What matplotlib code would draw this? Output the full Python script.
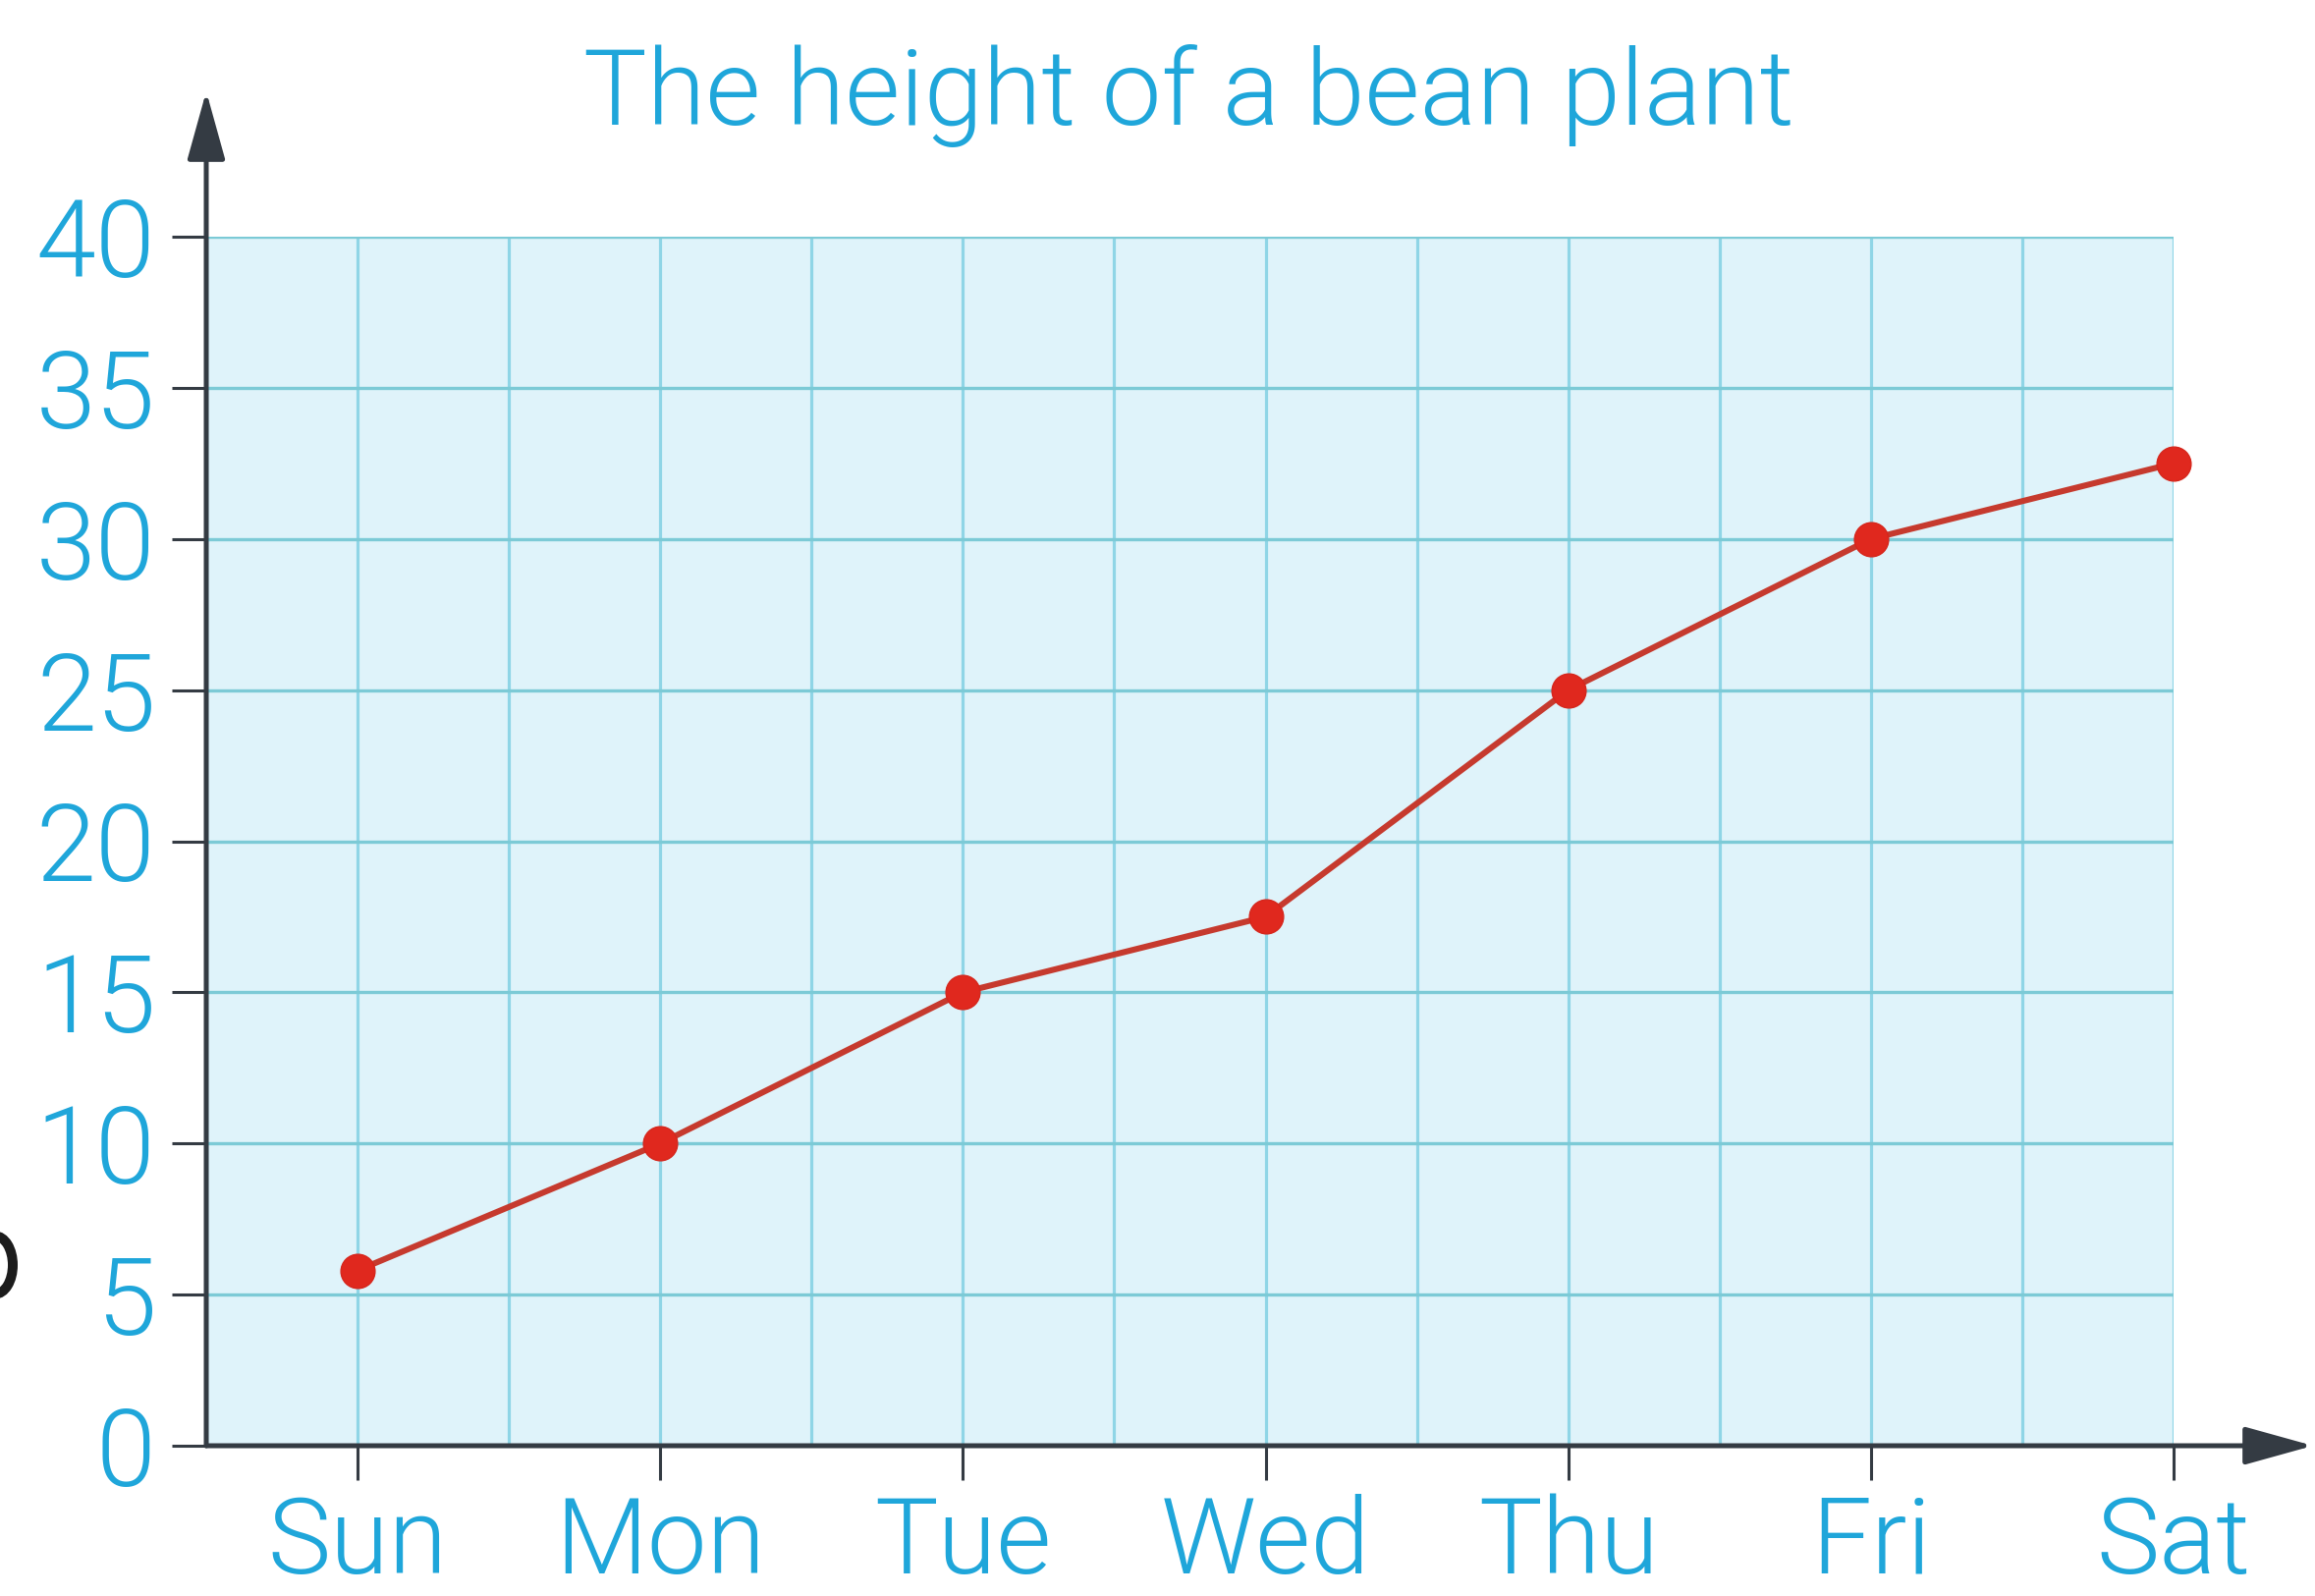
import matplotlib
matplotlib.use("Agg")
import matplotlib.pyplot as plt
from matplotlib.patches import Arc

# Data: daily height of the bean plant
days = ["Sun", "Mon", "Tue", "Wed", "Thu", "Fri", "Sat"]
heights = [5.8, 10, 15, 17.5, 25, 30, 32.5]
y_ticks = [0, 5, 10, 15, 20, 25, 30, 35, 40]
title = "The height of a bean plant"

W, H, DPI = 2357, 1625, 100
BLUE = "#1fa6da"
AXIS = "#343b43"
FILL = "#dff3fa"
HGRID = "#7ccad6"
VGRID = "#8fd5e6"
WEIGHT = 300

plt.rcParams["font.family"] = ["Roboto", "DejaVu Sans"]

fig = plt.figure(figsize=(W / DPI, H / DPI), dpi=DPI)
fig.patch.set_facecolor("white")

left, right, bottom, top = 210, 2213, 1472, 241
ax = fig.add_axes([left / W, (H - bottom) / H, (right - left) / W, (bottom - top) / H])
ax.set_facecolor(FILL)

x = list(range(len(days)))
ax.set_xlim(-0.5, len(days) - 1)
ax.set_ylim(0, 40)

# grid: half-day verticals, 5-unit horizontals
for xv in [i * 0.5 - 0.5 for i in range(2 * len(days))]:
    ax.axvline(xv, color=VGRID, lw=2.3, zorder=1)
for yv in y_ticks:
    ax.axhline(yv, color=HGRID, lw=2.4, zorder=1)

for s in ax.spines.values():
    s.set_visible(False)

ax.set_xticks(x)
ax.set_xticklabels(days, fontweight=WEIGHT)
ax.set_yticks(y_ticks)
ax.set_yticklabels([str(v) for v in y_ticks], fontweight=WEIGHT)
ax.tick_params(axis="y", direction="out", length=25, width=2.2, color=AXIS,
               labelsize=79, labelcolor=BLUE, pad=12)
ax.tick_params(axis="x", direction="out", length=25, width=2.2, color=AXIS,
               labelsize=78, labelcolor=BLUE, pad=10)

# data line
ax.plot(x, heights, color="#c63a2e", lw=4.4, zorder=4, clip_on=False)
ax.plot(x, heights, "o", color="#e0281e", ms=25, mec="#d6261c", zorder=5, clip_on=False)

# axes with arrowheads
arrow = dict(arrowstyle="-|>,head_length=2.7,head_width=0.75", color=AXIS, lw=3.6,
             shrinkA=0, shrinkB=0, mutation_scale=16)
ax.annotate("", xy=(0, (bottom - 93) / (bottom - top)), xytext=(0, 0),
            xycoords="axes fraction", textcoords="axes fraction",
            arrowprops=arrow, annotation_clip=False, zorder=6)
ax.annotate("", xy=((2355 - left) / (right - left), 0), xytext=(0, 0),
            xycoords="axes fraction", textcoords="axes fraction",
            arrowprops=arrow, annotation_clip=False, zorder=6)

fig.text(1210 / W, 1 - 127 / H, title, ha="center", va="baseline",
         fontsize=78, color=BLUE, fontweight=WEIGHT)

# dark curved stroke at the left edge
fig.add_artist(Arc((-5 / W, 1 - 1288 / H), 36 / W, 59 / H, theta1=-90, theta2=90,
                   transform=fig.transFigure, color="#1c1c1c", lw=7.2))

fig.savefig("out.png", dpi=DPI, facecolor="white")
